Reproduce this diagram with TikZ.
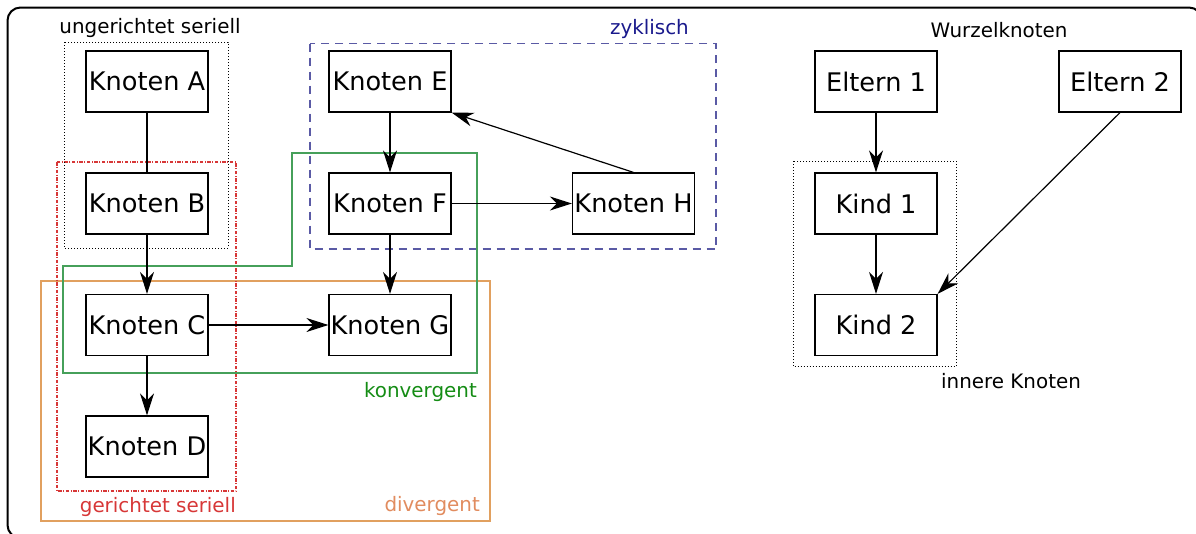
\documentclass[tikz,border=0pt]{standalone}
\usepackage{fontspec}
\setmainfont{DejaVu Sans}
\usetikzlibrary{arrows.meta}

\definecolor{zykline}{RGB}{90,90,165}
\definecolor{zyktext}{RGB}{25,25,140}
\definecolor{serred}{RGB}{215,55,55}
\definecolor{konline}{RGB}{70,160,90}
\definecolor{kontext}{RGB}{20,140,20}
\definecolor{divline}{RGB}{225,160,95}
\definecolor{divtext}{RGB}{225,140,95}

\begin{document}
\begin{tikzpicture}[x=1pt,y=-1pt,
  knot/.style={draw, line width=1.2pt, minimum width=122pt, minimum height=61pt,
    inner sep=0pt, font=\fontsize{25.6}{30}\selectfont},
  lbl/.style={inner sep=0pt, font=\fontsize{19.9}{23}\selectfont},
  link/.style={line width=1.2pt},
  arr/.style={link, -{Stealth[length=22pt,width=14pt,inset=7pt]}},
  dotbox/.style={line width=0.9pt, dash pattern=on 1pt off 2pt},
]
\useasboundingbox (0,0) rectangle (1196,533);

% outer frame
\begin{scope}
  \clip (0,0) rectangle (1196,533);
  \draw[line width=2pt, rounded corners=13pt] (7.5,7.5) rectangle (1202,538);
\end{scope}

% groups
\draw[divline, line width=1.3pt] (41,281) rectangle (490,521);
\draw[serred, line width=1.2pt, dash pattern=on 3.5pt off 1.5pt on 1pt off 1.5pt] (57,162) rectangle (236,491);
\draw[dotbox] (64,42) rectangle (228,248);
\draw[zykline, line width=1.4pt, dash pattern=on 8pt off 6pt] (310,43.5) rectangle (716,249);
\draw[konline, line width=1.2pt] (292,153) -- (477,153) -- (477,373) -- (63,373) -- (63,266) -- (292,266) -- cycle;
\draw[dotbox] (793,161) rectangle (956,366.5);

% group labels
\node[lbl, anchor=base] (lu) at (150,33) {ungerichtet seriell};
\node[lbl, anchor=base east, text=zyktext] (lz) at (689,34) {zyklisch};
\node[lbl, anchor=base east, text=kontext] (lk) at (477,397) {konvergent};
\node[lbl, anchor=base east, text=serred] (lg) at (236,512) {gerichtet seriell};
\node[lbl, anchor=base east, text=divtext] (ld) at (480,511) {divergent};
\node[lbl, anchor=base] (lw) at (999,37) {Wurzelknoten};
\node[lbl, anchor=base] (li) at (1011,388) {innere Knoten};

% nodes
\node[knot] (A) at (147,81.5) {Knoten A};
\node[knot] (B) at (147,203.5) {Knoten B};
\node[knot] (C) at (147,325) {Knoten C};
\node[knot] (D) at (147,446.5) {Knoten D};
\node[knot] (E) at (390,81.5) {Knoten E};
\node[knot] (F) at (390,203.5) {Knoten F};
\node[knot] (G) at (390,325) {Knoten G};
\node[knot] (H) at (633.5,203.5) {Knoten H};
\node[knot] (P1) at (876,81.5) {Eltern 1};
\node[knot] (P2) at (1120,81.5) {Eltern 2};
\node[knot] (K1) at (876,203.5) {Kind 1};
\node[knot] (K2) at (876,325) {Kind 2};

% connectors
\draw[link] (A) -- (B);
\draw[arr] (B) -- (C);
\draw[arr] (C) -- (D);
\draw[arr] (C) -- (G);
\draw[arr] (E) -- (F);
\draw[arr] (F) -- (H);
\draw[arr] (F) -- (G);
\draw[arr] (H.north) -- (E.south east);
\draw[arr] (P1) -- (K1);
\draw[arr] (K1) -- (K2);
\draw[arr] (P2.south) -- (K2.north east);
\end{tikzpicture}
\end{document}
